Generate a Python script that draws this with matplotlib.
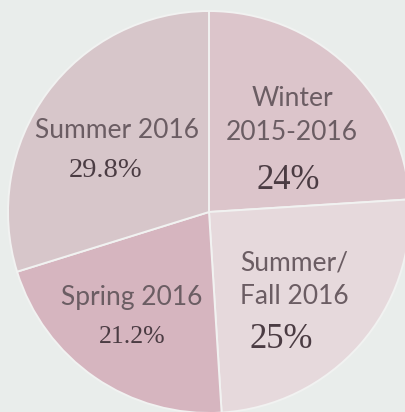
import matplotlib
matplotlib.use("Agg")
import matplotlib.pyplot as plt

# share of respondents by survey wave
seasons = ["Winter\n2015-2016", "Summer/\nFall 2016", "Spring 2016", "Summer 2016"]
shares = [24, 25, 21.2, 29.8]
colors = ["#dcc5cb", "#e6d9dc", "#d6b5bf", "#d7c6ca"]

W, H = 406, 412
fig = plt.figure(figsize=(W / 100, H / 100), dpi=100, facecolor="#e9edeb")
ax = fig.add_axes([0, 0, 1, 1])

ax.pie(shares, colors=colors, startangle=90, counterclock=False,
       center=(209, H - 212), radius=201,
       wedgeprops=dict(edgecolor="#f1f2f1", linewidth=1.4))

# pie() resets the limits, so set the pixel frame afterwards
ax.set_xlim(0, W)
ax.set_ylim(0, H)
ax.set_aspect("equal")
ax.axis("off")

# label anchors in pixels from the top-left, plus percent font size
name_pos = [(292, 115), (294, 280), (132, 297), (117, 130)]
pct_pos = [(288, 180), (281, 340), (132, 337), (106, 170)]
pct_size = [25, 25, 18.5, 20.5]

for name, v, (nx, ny), (px, py), fs in zip(seasons, shares, name_pos, pct_pos, pct_size):
    ax.text(nx, H - ny, name, ha="center", va="center", fontsize=19,
            family="Lato", color="#6b5d63", linespacing=1.45)
    ax.text(px, H - py, f"{v:g}%", ha="center", va="center", fontsize=fs,
            family="Liberation Serif", color="#4b3c43")

fig.savefig("out.png", dpi=100, facecolor=fig.get_facecolor())
